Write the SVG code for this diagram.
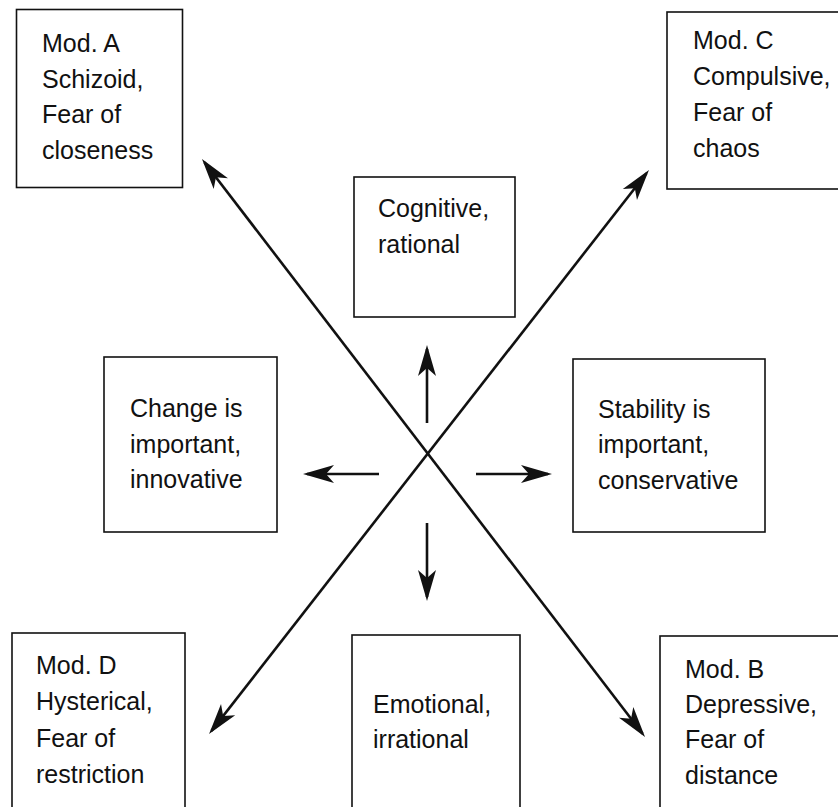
<svg xmlns="http://www.w3.org/2000/svg" width="838" height="807" viewBox="0 0 838 807">
<style>
.box{fill:#fff;stroke:#111;stroke-width:1.6}
.t{font-family:"Liberation Sans",Arial,sans-serif;font-size:25px;fill:#111}
.c{stroke:#111;stroke-width:2.6;fill:none;marker-end:url(#ah)}
.d{stroke:#111;stroke-width:2.6;fill:none;marker-start:url(#ah);marker-end:url(#ah)}
</style>
<defs>
<marker id="ah" markerUnits="userSpaceOnUse" viewBox="-30 -12 36 24" markerWidth="36" markerHeight="24" refX="0" refY="0" orient="auto-start-reverse">
<path d="M4,0 L-27,-9 L-19,0 L-27,9 Z" fill="#111"/>
</marker>
</defs>
<rect width="838" height="807" fill="#fff"/>
<g id="connectors">
<line class="d" x1="204.4" y1="162.2" x2="642.6" y2="733.8"/>
<line class="d" x1="646.5" y1="173.2" x2="211.5" y2="730.9"/>
<line class="c" x1="427" y1="423" x2="427" y2="349"/>
<line class="c" x1="379" y1="474" x2="307" y2="474"/>
<line class="c" x1="476" y1="474" x2="548" y2="474"/>
<line class="c" x1="427" y1="523" x2="427" y2="597"/>
</g>
<g id="modA">
<rect class="box" x="16.5" y="9.5" width="166" height="178"/>
<text class="t" x="42" y="52">Mod. A</text>
<text class="t" x="42" y="87.5">Schizoid,</text>
<text class="t" x="42" y="123">Fear of</text>
<text class="t" x="42" y="158.5">closeness</text>
</g>
<g id="modC">
<rect class="box" x="667" y="12" width="190" height="177"/>
<text class="t" x="693" y="49">Mod. C</text>
<text class="t" x="693" y="85">Compulsive,</text>
<text class="t" x="693" y="121">Fear of</text>
<text class="t" x="693" y="157">chaos</text>
</g>
<g id="cognitive">
<rect class="box" x="354" y="177" width="161" height="140"/>
<text class="t" x="378" y="217">Cognitive,</text>
<text class="t" x="378" y="253">rational</text>
</g>
<g id="change">
<rect class="box" x="104" y="357" width="173" height="175"/>
<text class="t" x="130" y="417">Change is</text>
<text class="t" x="130" y="453">important,</text>
<text class="t" x="130" y="488">innovative</text>
</g>
<g id="stability">
<rect class="box" x="573" y="359" width="192" height="173"/>
<text class="t" x="598" y="418">Stability is</text>
<text class="t" x="598" y="453">important,</text>
<text class="t" x="598" y="489">conservative</text>
</g>
<g id="modD">
<rect class="box" x="12" y="633" width="173" height="200"/>
<text class="t" x="36" y="674">Mod. D</text>
<text class="t" x="36" y="710">Hysterical,</text>
<text class="t" x="36" y="747">Fear of</text>
<text class="t" x="36" y="783">restriction</text>
</g>
<g id="emotional">
<rect class="box" x="352" y="635" width="168" height="200"/>
<text class="t" x="373" y="713">Emotional,</text>
<text class="t" x="373" y="748">irrational</text>
</g>
<g id="modB">
<rect class="box" x="660" y="636" width="200" height="200"/>
<text class="t" x="685" y="678">Mod. B</text>
<text class="t" x="685" y="713">Depressive,</text>
<text class="t" x="685" y="748">Fear of</text>
<text class="t" x="685" y="784">distance</text>
</g>
</svg>
